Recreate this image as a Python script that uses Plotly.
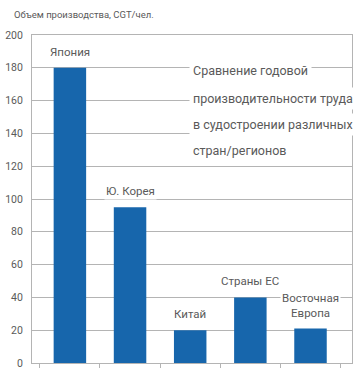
import plotly.graph_objects as go

categories = ["Япония", "Ю. Корея", "Китай", "Страны ЕС", "Восточная Европа"]
bar_labels = ["Япония", "Ю. Корея", "Китай", "Страны ЕС", "Восточная<br>Европа"]
values = [180, 95, 20, 40, 21]
y_ticks = [0, 20, 40, 60, 80, 100, 120, 140, 160, 180, 200]
title_text = "Объем производства, CGT/чел."
note_lines = ["Сравнение годовой", "производительности труда",
              "в судостроении различных", "стран/регионов"]

FONT = "Roboto"
GRAY = "#5a5a5a"
GRID = "#b4b4b4"
BLUE = "#1766ac"

def f(size):
    return dict(family=FONT, size=size, color=GRAY)

fig = go.Figure()
fig.add_trace(go.Bar(x=categories, y=values, marker_color=BLUE,
                     marker_line_width=0, width=0.54, hoverinfo="skip"))

annotations = []
for c, lab, v in zip(categories, bar_labels, values):
    annotations.append(dict(x=c, y=v, xref="x", yref="y", text=lab,
                            showarrow=False, yanchor="bottom", yshift=7,
                            bgcolor="white", borderpad=1, font=f(11.5)))

note_y = [0.893, 0.806, 0.727, 0.649]
for t, yy in zip(note_lines, note_y):
    annotations.append(dict(x=0.49, y=yy, xref="paper", yref="paper", text=t,
                            showarrow=False, xanchor="left", yanchor="middle",
                            bgcolor="white", borderpad=3, font=f(12.5)))

annotations.append(dict(x=-20/320, y=1 + 20/328, xref="paper", yref="paper",
                        text=title_text, showarrow=False, xanchor="left",
                        yanchor="middle", font=f(9.5)))

fig.update_layout(
    width=363, height=375,
    margin=dict(l=32, r=11, t=35, b=12, autoexpand=False),
    paper_bgcolor="white", plot_bgcolor="white",
    showlegend=False,
    annotations=annotations,
    font=f(11),
)
fig.update_xaxes(range=[-0.63, 4.69], showticklabels=False, showgrid=False,
                 showline=True, linecolor=GRID, linewidth=1, mirror=True,
                 ticks="outside", tickson="boundaries", ticklen=4,
                 tickcolor=GRID)
fig.update_yaxes(range=[0, 200], tickvals=y_ticks, showgrid=True,
                 gridcolor=GRID, gridwidth=1, showline=True, linecolor=GRID,
                 linewidth=1, mirror=True, zeroline=False,
                 tickfont=f(10.5), ticks="", ticklabelstandoff=6)

fig.write_html("out.html", config={"displayModeBar": False},
               post_script="document.body.style.margin='0';"
                           "document.body.style.overflow='hidden';")
